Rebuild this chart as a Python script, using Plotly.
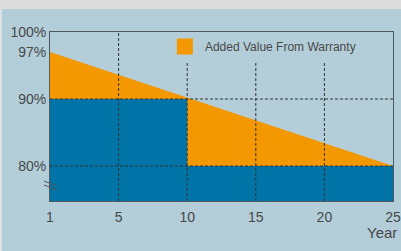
import plotly.graph_objects as go

# ---- data ----
years_pos = [0, 25]              # axis positions of year 1 and year 25
warranty_pct = [97, 80]          # linear warranty
step_x = [0, 10, 10, 25]         # industry standard step warranty
step_pct = [90, 90, 80, 80]
x_tickvals = [0, 5, 10, 15, 20, 25]
x_ticktext = ["1", "5", "10", "15", "20", "25"]
y_tickvals = [80, 90, 97, 100]
y_ticktext = ["80%", "90%", "97%", "100%"]
grid_x = [5, 10, 15, 20]
grid_y = [80, 90]
legend_name = "Added Value From Warranty"

ORANGE = "#f39800"
BLUE = "#0074a6"
BG = "#b3ced9"
TXT = "#484848"
FRAME = "#4f5a5f"
FONT = "Liberation Sans, Arial, sans-serif"

fig = go.Figure()
fig.add_trace(go.Scatter(x=years_pos, y=warranty_pct, mode="lines",
                         line=dict(width=0, color=ORANGE), fill="tozeroy",
                         fillcolor=ORANGE, showlegend=False, hoverinfo="skip"))
fig.add_trace(go.Scatter(x=step_x, y=step_pct, mode="lines",
                         line=dict(width=0, color=BLUE), fill="tozeroy",
                         fillcolor=BLUE, showlegend=False, hoverinfo="skip"))
fig.add_trace(go.Scatter(x=[None], y=[None], mode="markers", name=legend_name,
                         marker=dict(symbol="square", size=16, color=ORANGE)))

shapes = []
for gx in grid_x:
    shapes.append(dict(type="line", xref="x", yref="paper", x0=gx, x1=gx, y0=0, y1=1,
                       line=dict(color="#333", width=1, dash="3px,2px"), layer="above"))
for gy in grid_y:
    shapes.append(dict(type="line", xref="paper", yref="y", x0=0, x1=1, y0=gy, y1=gy,
                       line=dict(color="#333", width=1, dash="3px,2px"), layer="above"))
# page decorations (grey strips)
shapes.append(dict(type="rect", xref="paper", yref="paper", x0=-0.2, x1=1.1,
                   y0=1.136, y1=1.25, fillcolor="#dcdcdc", line=dict(width=0), layer="above"))
shapes.append(dict(type="rect", xref="paper", yref="paper", x0=-0.2, x1=-0.1399,
                   y0=-0.4, y1=1.136, fillcolor="#dde3e5", line=dict(width=0), layer="above"))
# axis-break mark
for y0, y1 in [(0.1183, 0.0888), (0.0947, 0.0651)]:
    shapes.append(dict(type="line", xref="paper", yref="paper", x0=-0.0175, x1=0.0204,
                       y0=y0, y1=y1, line=dict(color="#555", width=1), layer="above"))

fig.update_layout(
    width=401, height=251,
    margin=dict(l=50, r=8, t=32, b=50),
    paper_bgcolor=BG, plot_bgcolor=BG,
    font=dict(family=FONT, color=TXT, size=14),
    shapes=shapes,
    showlegend=True,
    legend=dict(x=0.335, y=1, xanchor="left", yanchor="top", bgcolor=BG,
                borderwidth=0, font=dict(size=12, color=TXT),
                itemsizing="trace"),
    xaxis=dict(range=[0, 25], tickvals=x_tickvals, ticktext=x_ticktext,
               showgrid=False, zeroline=False, showline=True, mirror=True,
               linecolor=FRAME, linewidth=1, ticks="", tickfont=dict(size=14),
               ticklabelstandoff=3, automargin=False),
    yaxis=dict(range=[74.78, 100], tickvals=y_tickvals, ticktext=y_ticktext,
               showgrid=False, zeroline=False, showline=True, mirror=True,
               linecolor=FRAME, linewidth=1, ticks="", tickfont=dict(size=14),
               automargin=False),
    annotations=[
        dict(text="Year", xref="paper", yref="paper", x=1.0175, y=-0.189,
             xanchor="right", yanchor="middle", showarrow=False,
             font=dict(size=15, color=TXT)),
    ],
)

fig.write_html("out.html", post_script="document.body.style.margin='0';",
               config={"displayModeBar": False})
